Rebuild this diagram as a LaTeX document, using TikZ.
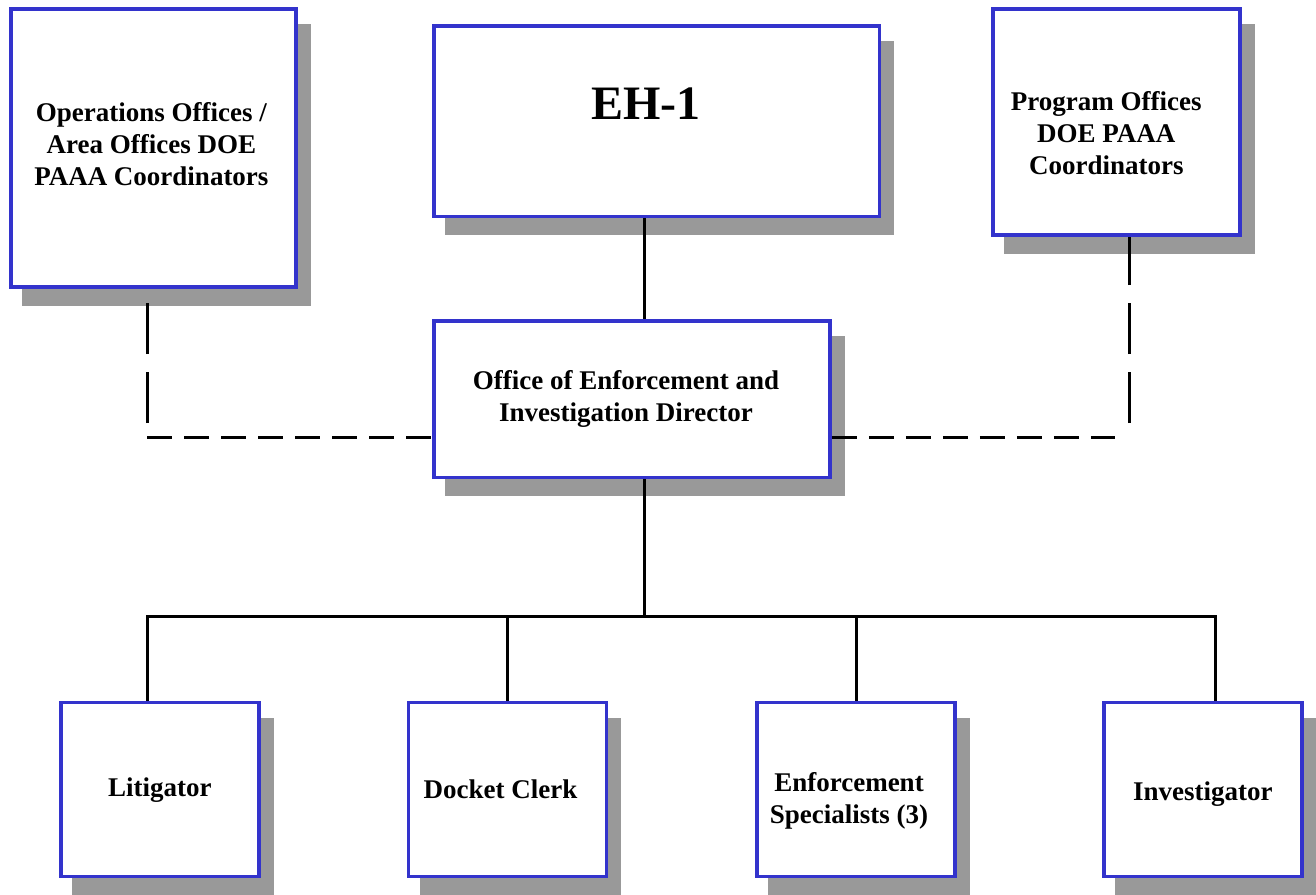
\documentclass[tikz,border=0pt]{standalone}
\usepackage{fontspec}
\setmainfont{Liberation Serif}
\usetikzlibrary{shadows}

\definecolor{boxblue}{HTML}{3333CC}
\definecolor{shadowgray}{HTML}{999999}

\begin{document}
\begin{tikzpicture}[x=1pt,y=-1pt,
        office/.style={draw=boxblue,line width=3.5pt,fill=white,inner sep=0pt,
            drop shadow={shadow xshift=13pt,shadow yshift=-17pt,fill=shadowgray,
                draw=shadowgray,line width=3.5pt,opacity=1}},
        title/.style={font=\fontsize{27}{32}\selectfont\bfseries,align=center},
        link/.style={line width=3pt},
        hdash/.style={link,dash pattern=on 25pt off 12pt},
        vdash/.style={link,dash pattern=on 51pt off 18pt}]

    \useasboundingbox (0,0) rectangle (1316,894);

    \node [office,minimum width=285pt,minimum height=278pt]   (ops)  at (153.4,147.9) {};
    \node [office,minimum width=445.5pt,minimum height=190.5pt] (eh) at (656.8,121.3) {};
    \node [office,minimum width=247pt,minimum height=226pt]   (prog) at (1116.3,122) {};
    \node [office,minimum width=396pt,minimum height=156.5pt] (dir)  at (632,399.3) {};
    \foreach \name/\x in {lit/159.8,dock/507.5,enf/856,inv/1202.8}{%
        \node [office,minimum width=198pt,minimum height=174pt] (\name) at (\x,789.7) {};
    }

    \node [title] (opsT)  at ([shift={(-2,-4)}]ops.center)  {Operations Offices /\\Area Offices DOE\\PAAA Coordinators};
    \node [title,font=\fontsize{48}{56}\selectfont\bfseries] (ehT) at ([shift={(-11,-18)}]eh.center) {EH-1};
    \node [title] (progT) at ([shift={(-10,11)}]prog.center) {Program Offices\\DOE PAAA\\Coordinators};
    \node [title] (dirT)  at ([shift={(-6,0)}]dir.center)   {Office of Enforcement and\\Investigation Director};
    \node [title] (litT)  at (lit.center)                   {Litigator};
    \node [title] (dockT) at ([shift={(-7,0)}]dock.center)  {Docket Clerk};
    \node [title] (enfT)  at ([shift={(-7,11)}]enf.center)  {Enforcement\\Specialists (3)};
    \node [title] (invT)  at ([shift={(0,4)}]inv.center)    {Investigator};

    \coordinate (trunk)    at (644,616);
    \coordinate (busL)     at (147,616);
    \coordinate (busR)     at (1215,616);
    \coordinate (opsEnd)   at (147,423);
    \coordinate (opsTurn)  at (147,437.5);
    \coordinate (progEnd)  at (1129,423);
    \coordinate (progTurn) at (1115,437.5);

    \draw [link] (eh.south -| trunk) -- (dir.north -| trunk);
    \draw [link] (dir.south -| trunk) -- (trunk);
    \draw [link] (lit.north -| busL) -- (busL) -- (busR) -- (inv.north -| busR);
    \draw [link] (dock.north) -- (dock.north |- trunk);
    \draw [link] (enf.north) -- (enf.north |- trunk);

    \draw [vdash] (opsEnd) -- (147,302);
    \draw [hdash] (opsTurn) -- (opsTurn -| dir.west);
    \draw [vdash] (progEnd) -- (progEnd |- prog.south);
    \draw [hdash] (dir.east |- progTurn) -- (progTurn);

\end{tikzpicture}
\end{document}
